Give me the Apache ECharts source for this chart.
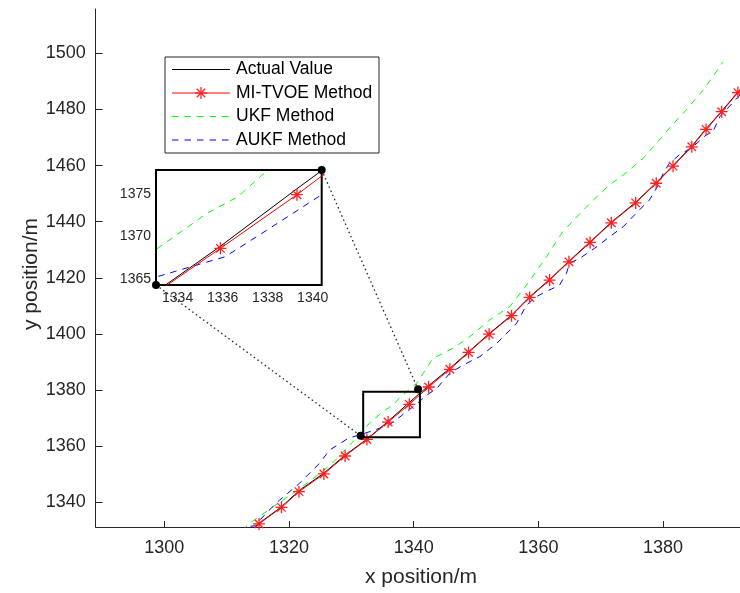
<!DOCTYPE html>
<html><head><meta charset="utf-8">
<script src="https://cdn.jsdelivr.net/npm/echarts@6/dist/echarts.min.js"></script>
<style>html,body{margin:0;padding:0;background:#fff}#c{width:740px;height:593px}</style>
</head><body><div id="c"></div>
<script>
// ---------- data ----------
const actualX = [1312.0,1315.2,1318.8,1321.6,1325.6,1329.0,1332.5,1335.9,1339.3,1342.4,1345.8,1348.8,1352.1,1355.7,1358.6,1361.8,1364.9,1368.3,1371.7,1375.6,1378.9,1381.6,1384.6,1386.9,1389.4,1392.0,1394.6];
const actualY = [1326.4,1332.5,1338.4,1344.1,1350.4,1356.8,1362.5,1368.85,1375.6,1381.6,1387.7,1393.6,1400.1,1406.7,1413.2,1419.4,1425.9,1432.8,1439.8,1446.9,1453.9,1460.0,1466.9,1473.1,1479.4,1486.2,1492.8];
const mitvoeX = [1312.0,1315.2,1318.8,1321.6,1325.6,1329.0,1332.5,1335.9,1339.3,1342.4,1345.8,1348.8,1352.1,1355.7,1358.6,1361.8,1364.9,1368.3,1371.7,1375.6,1378.9,1381.6,1384.6,1386.9,1389.4,1392.0,1394.6];
const mitvoeY = [1326.2,1332.3,1338.2,1343.8,1350.1,1356.5,1362.4,1368.6,1374.9,1381.1,1387.4,1393.4,1399.9,1406.5,1413.0,1419.2,1425.7,1432.6,1439.6,1446.7,1453.7,1459.8,1466.7,1472.9,1479.2,1486.0,1492.6];
const ukfX = [1311.0,1313.7,1317.5,1321.8,1324.5,1327.0,1330.0,1333.0,1335.3,1336.7,1338.0,1340.5,1343.1,1346.3,1349.0,1352.2,1355.4,1358.1,1361.3,1363.9,1366.7,1368.8,1371.4,1373.6,1376.8,1379.4,1381.0,1383.7,1386.4,1388.0,1389.6];
const ukfY = [1327.0,1332.5,1338.5,1345.0,1349.5,1354.0,1361.0,1368.4,1372.7,1374.7,1377.8,1382.5,1391.3,1394.9,1399.0,1405.0,1409.7,1417.4,1427.5,1436.4,1443.0,1447.7,1453.1,1456.6,1462.6,1469.1,1473.3,1479.8,1486.9,1491.7,1497.0];
const aukfX = [1312.2,1312.9,1314.5,1316.5,1318.5,1321.7,1324.9,1326.5,1329.5,1333.0,1335.3,1336.1,1338.0,1340.4,1342.1,1343.7,1345.8,1347.9,1350.6,1353.3,1356.5,1358.1,1359.7,1360.7,1363.4,1364.5,1365.0,1366.6,1369.0,1371.4,1373.6,1376.2,1377.8,1379.4,1380.0,1381.0,1382.6,1384.8,1386.9,1388.0,1389.1,1390.1,1392.3,1394.5];
const aukfY = [1329.5,1331.3,1331.6,1336.5,1340.8,1346.8,1353.9,1358.6,1362.8,1365.2,1367.0,1367.6,1370.8,1374.9,1378.2,1380.6,1386.0,1388.9,1391.9,1396.6,1403.8,1410.3,1413.3,1414.5,1417.4,1421.6,1425.2,1426.9,1430.5,1434.6,1438.2,1444.2,1447.7,1453.7,1457.2,1460.8,1463.8,1466.7,1470.9,1472.1,1477.4,1479.8,1485.1,1490.0];

const xTicks = [1300,1320,1340,1360,1380,1400];
const yTicks = [1340,1360,1380,1400,1420,1440,1460,1480,1500];
const insetXTicks = [1334,1336,1338,1340];
const insetYTicks = [1365,1370,1375];
const mainXRange = [1289,1400];
const mainYRange = [1331.2,1515.8];
const insetXRange = [1333.04,1340.4];
const insetYRange = [1364.3,1377.8];
const zoomBox = [1331.9,1363.2,1341.0,1379.4];
const zoomDots = [[1331.5,1363.7],[1340.7,1380.3]];
const legendNames = ['Actual Value','MI-TVOE Method','UKF Method','AUKF Method'];
const xTitle = 'x position/m';
const yTitle = 'y position/m';

// ---------- chart ----------
const FONT = "'Liberation Sans', Arial, Helvetica, sans-serif";
const AX = '#262626';
const zip = (a,b) => a.map((v,i)=>[v,b[i]]);
const plain = v => String(v);
const STAR = 'path://M0,10 L20,10 M10,0 L10,20 M2.93,2.93 L17.07,17.07 M17.07,2.93 L2.93,17.07';

const chart = echarts.init(document.getElementById('c'), null, {renderer:'canvas'});

function seriesFor(xi, yi, z){
  return [
    {type:'line', xAxisIndex:xi, yAxisIndex:yi, data:zip(actualX,actualY), showSymbol:false, symbol:'none',
     lineStyle:{color:'#000', width:1}, z:z, silent:true},
    {type:'line', xAxisIndex:xi, yAxisIndex:yi, data:zip(mitvoeX,mitvoeY), symbol:STAR, symbolSize:12, showAllSymbol:true,
     itemStyle:{color:'#ff0000', borderColor:'#ff2020', borderWidth:1.3}, lineStyle:{color:'#ff0000', width:1}, z:z+1, silent:true},
    {type:'line', xAxisIndex:xi, yAxisIndex:yi, data:zip(ukfX,ukfY), symbol:'none',
     lineStyle:{color:'#00ff00', width:1, type:[6.5,6]}, z:z, silent:true},
    {type:'line', xAxisIndex:xi, yAxisIndex:yi, data:zip(aukfX,aukfY), symbol:'none',
     lineStyle:{color:'#0000ff', width:1, type:[6.5,6]}, z:z, silent:true}
  ];
}

const hidden = {show:false};
chart.setOption({
  animation:false,
  backgroundColor:'#fff',
  grid:[
    {left:95.7, top:9, width:(mainXRange[1]-mainXRange[0])*6.235, height:518, show:false, containLabel:false, outerBoundsMode:'none'},
    {left:156, top:170, width:165.7, height:115, show:true, borderColor:'#000', borderWidth:2, backgroundColor:'#fff', z:5, containLabel:false, outerBoundsMode:'none'}
  ],
  xAxis:[
    {gridIndex:0, type:'value', min:mainXRange[0], max:mainXRange[1], splitNumber:5,
     axisLine:{show:true, onZero:false, lineStyle:{color:AX, width:1}},
     axisTick:{show:true, inside:true, length:6, lineStyle:{color:AX}, customValues:xTicks},
     axisLabel:{color:AX, fontSize:18, fontFamily:FONT, margin:12, customValues:xTicks, formatter:plain},
     splitLine:hidden},
    {gridIndex:1, type:'value', min:insetXRange[0], max:insetXRange[1], position:'bottom',
     axisLine:hidden,
     axisTick:{show:true, inside:true, length:4, lineStyle:{color:'#000'}, customValues:insetXTicks},
     axisLabel:{color:AX, fontSize:14, fontFamily:FONT, margin:6, customValues:insetXTicks, formatter:plain},
     splitLine:hidden},
    {gridIndex:1, type:'value', min:insetXRange[0], max:insetXRange[1], position:'top',
     axisLine:hidden,
     axisTick:{show:true, inside:true, length:4, lineStyle:{color:'#000'}, customValues:insetXTicks},
     axisLabel:hidden, splitLine:hidden}
  ],
  yAxis:[
    {gridIndex:0, type:'value', min:mainYRange[0], max:mainYRange[1], splitNumber:9,
     axisLine:{show:true, onZero:false, lineStyle:{color:AX, width:1}},
     axisTick:{show:true, inside:true, length:7, lineStyle:{color:AX}, customValues:yTicks},
     axisLabel:{color:AX, fontSize:18, fontFamily:FONT, margin:10, customValues:yTicks, formatter:plain},
     splitLine:hidden},
    {gridIndex:1, type:'value', min:insetYRange[0], max:insetYRange[1], position:'left',
     axisLine:hidden,
     axisTick:{show:true, inside:true, length:4, lineStyle:{color:'#000'}, customValues:insetYTicks},
     axisLabel:{color:AX, fontSize:14, fontFamily:FONT, margin:5, customValues:insetYTicks, formatter:plain},
     splitLine:hidden},
    {gridIndex:1, type:'value', min:insetYRange[0], max:insetYRange[1], position:'right',
     axisLine:hidden,
     axisTick:{show:true, inside:true, length:4, lineStyle:{color:'#000'}, customValues:insetYTicks},
     axisLabel:hidden, splitLine:hidden}
  ],
  series:[].concat(seriesFor(0,0,2), seriesFor(1,1,10))
});

// ---------- annotations ----------
const P = (g, pt) => chart.convertToPixel({gridIndex:g}, pt);
const bl = P(0,[zoomBox[0],zoomBox[1]]), tr = P(0,[zoomBox[2],zoomBox[3]]);
const d1 = P(0,zoomDots[0]), d2 = P(0,zoomDots[1]);
const iBL = P(1,[insetXRange[0],insetYRange[0]]), iTR = P(1,[insetXRange[1],insetYRange[1]]);

const g = [];
g.push({type:'line', shape:{x1:iTR[0],y1:iTR[1],x2:d2[0],y2:d2[1]}, style:{stroke:'#222', lineWidth:1.3, lineDash:[1.5,3]}, z:50});
g.push({type:'line', shape:{x1:iBL[0],y1:iBL[1],x2:d1[0],y2:d1[1]}, style:{stroke:'#222', lineWidth:1.3, lineDash:[1.5,3]}, z:50});
g.push({type:'rect', shape:{x:bl[0], y:tr[1], width:tr[0]-bl[0], height:bl[1]-tr[1]}, style:{fill:null, stroke:'#000', lineWidth:2}, z:50});
[d1,d2,iBL,iTR].forEach(p => g.push({type:'circle', shape:{cx:p[0], cy:p[1], r:4}, style:{fill:'#000'}, z:60}));

// legend
const LX = 165, LY = 57, LW = 214, LH = 96;
g.push({type:'rect', shape:{x:LX, y:LY, width:LW, height:LH}, style:{fill:'#fff', stroke:AX, lineWidth:1}, z:70});
const rowY = [69.5, 93, 116.5, 140];
const sty = [
  {stroke:'#000', lineWidth:1},
  {stroke:'#ff0000', lineWidth:1},
  {stroke:'#00ff00', lineWidth:1, lineDash:[6.5,6]},
  {stroke:'#0000ff', lineWidth:1, lineDash:[6.5,6]}
];
legendNames.forEach((n,i) => {
  g.push({type:'line', shape:{x1:172, y1:rowY[i], x2:230, y2:rowY[i]}, style:sty[i], z:71});
  g.push({type:'text', x:236, y:rowY[i], style:{text:n, fill:'#000', font:'17.5px ' + FONT, verticalAlign:'middle'}, z:71});
});
(function(){
  const cx = 201, cy = rowY[1], r = 6, c = r*0.7071;
  [[-r,0,r,0],[0,-r,0,r],[-c,-c,c,c],[c,-c,-c,c]].forEach(s => g.push({type:'line', shape:{x1:cx+s[0],y1:cy+s[1],x2:cx+s[2],y2:cy+s[3]}, style:{stroke:'#ff2020', lineWidth:1.3}, z:72}));
})();

// axis titles
g.push({type:'text', x:421, y:577, style:{text:xTitle, fill:AX, font:'21px ' + FONT, align:'center', verticalAlign:'middle'}, z:40});
g.push({type:'text', x:31, y:274, rotation:Math.PI/2, style:{text:yTitle, fill:AX, font:'21px ' + FONT, align:'center', verticalAlign:'middle'}, z:40});

chart.setOption({graphic:{elements:g}});
</script></body></html>
